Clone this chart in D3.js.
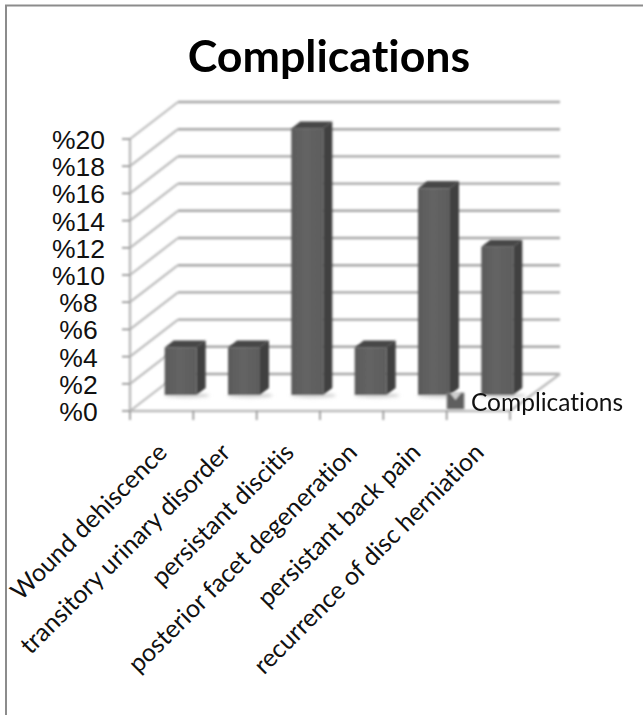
<!DOCTYPE html>
<html>
<head>
<meta charset="utf-8">
<script src="https://cdn.jsdelivr.net/npm/d3@7"></script>
<style>
  html, body { margin: 0; padding: 0; background: #fff; }
  svg { display: block; }
  text { font-variant-ligatures: none; }
</style>
</head>
<body>
<svg id="chart" width="643" height="715"></svg>
<script>
// Complication rates, in percent
const categories = [
  "Wound dehiscence",
  "transitory urinary disorder",
  "persistant discitis",
  "posterior facet degeneration",
  "persistant back pain",
  "recurrence of disc herniation"
];
const values = [3.5, 3.5, 19.6, 3.5, 15.2, 10.9];
const yTicks = [0, 2, 4, 6, 8, 10, 12, 14, 16, 18, 20];
const seriesName = "Complications";
const chartTitle = "Complications";

const svg = d3.select("#chart");
const defs = svg.append("defs");

// Pseudo-3D box: the back wall sits up and to the right of the front plane
const wallDx = 48, wallDy = -37;
const barShiftX = 19, barShiftY = -16;   // bars stand partway into the floor
const sideDx = 9, sideDy = -7;           // depth of each bar

const x = d3.scaleBand().domain(categories).range([130, 510]);
const y = d3.scaleLinear().domain([0, 20]).range([411, 139]);
const barWidth = 32;

const gridColor = "#a6a6a6";
const softGrid = "#bababa";

// Outer frame: top and left edges only
svg.append("path")
  .attr("d", d3.line()([[643, 5.5], [6, 5.5], [6, 715]]))
  .attr("fill", "none")
  .attr("stroke", "#8c8c8c")
  .attr("stroke-width", 2);

// Soft blur for the walls and bars
const soft = defs.append("filter").attr("id", "soft")
  .attr("filterUnits", "userSpaceOnUse")
  .attr("x", 0).attr("y", 0).attr("width", 643).attr("height", 715);
soft.append("feGaussianBlur").attr("stdDeviation", 0.8);
const shadowBlur = defs.append("filter").attr("id", "shadowBlur")
  .attr("filterUnits", "userSpaceOnUse")
  .attr("x", 0).attr("y", 0).attr("width", 643).attr("height", 715);
shadowBlur.append("feGaussianBlur").attr("stdDeviation", 1.6);

// Front-face shading, lighter through the middle
const face = defs.append("linearGradient").attr("id", "faceFill");
face.append("stop").attr("offset", "0%").attr("stop-color", "#5a5a5a");
face.append("stop").attr("offset", "45%").attr("stop-color", "#646464");
face.append("stop").attr("offset", "100%").attr("stop-color", "#5c5c5c");

const walls = svg.append("g").attr("filter", "url(#soft)");

// Back wall and side wall gridlines
walls.selectAll("line.back").data(yTicks).join("line")
  .attr("class", "back")
  .attr("x1", 130 + wallDx).attr("x2", 510 + wallDx + 2)
  .attr("y1", d => y(d) + wallDy).attr("y2", d => y(d) + wallDy)
  .attr("stroke", gridColor).attr("stroke-width", 2.4);
walls.selectAll("line.side").data(yTicks).join("line")
  .attr("class", "side")
  .attr("x1", 130).attr("x2", 130 + wallDx)
  .attr("y1", d => y(d)).attr("y2", d => y(d) + wallDy)
  .attr("stroke", softGrid).attr("stroke-width", 2.2);

// Floor edge on the right
walls.append("line")
  .attr("x1", 510).attr("y1", y(0))
  .attr("x2", 510 + wallDx + 2).attr("y2", y(0) + wallDy)
  .attr("stroke", softGrid).attr("stroke-width", 2.2);

// Value axis
walls.append("line")
  .attr("x1", 130).attr("x2", 130).attr("y1", y(20)).attr("y2", y(0))
  .attr("stroke", softGrid).attr("stroke-width", 2.4);
walls.selectAll("line.ytick").data(yTicks).join("line")
  .attr("class", "ytick")
  .attr("x1", 122).attr("x2", 130)
  .attr("y1", d => y(d)).attr("y2", d => y(d))
  .attr("stroke", "#858585").attr("stroke-width", 1.5);

// Category axis with ticks at the band edges
walls.append("line")
  .attr("x1", 130).attr("x2", 510).attr("y1", y(0)).attr("y2", y(0))
  .attr("stroke", softGrid).attr("stroke-width", 2.4);
const edges = categories.map(c => x(c)).concat([x.range()[1]]);
walls.selectAll("line.xtick").data(edges).join("line")
  .attr("class", "xtick")
  .attr("x1", d => d).attr("x2", d => d)
  .attr("y1", y(0)).attr("y2", y(0) + 9)
  .attr("stroke", "#858585").attr("stroke-width", 1.5);

// Bars
const barX = c => x(c) + (x.bandwidth() - barWidth) / 2 + barShiftX;
const barBase = y(0) + barShiftY;
const barTop = v => barBase - (y(0) - y(v));

const bars = svg.append("g").attr("filter", "url(#soft)")
  .selectAll("g").data(categories.map((c, i) => ({ c, v: values[i] }))).join("g");

bars.append("ellipse")
  .attr("cx", d => barX(d.c) + barWidth / 2 + 6).attr("cy", barBase + 0.5)
  .attr("rx", barWidth / 2 + 7).attr("ry", 2.2)
  .attr("fill", "#cfcfcf").attr("filter", "url(#shadowBlur)");

// Right side face
bars.append("path")
  .attr("d", d => {
    const l = barX(d.c) + barWidth, t = barTop(d.v);
    return d3.line()([[l, t], [l + sideDx, t + sideDy], [l + sideDx, barBase + sideDy], [l, barBase]]) + "Z";
  })
  .attr("fill", "#404040");

// Top face
bars.append("path")
  .attr("d", d => {
    const l = barX(d.c), t = barTop(d.v);
    return d3.line()([[l, t], [l + sideDx, t + sideDy], [l + barWidth + sideDx, t + sideDy], [l + barWidth, t]]) + "Z";
  })
  .attr("fill", "#474747");

// Front face
bars.append("rect")
  .attr("x", d => barX(d.c)).attr("y", d => barTop(d.v))
  .attr("width", barWidth).attr("height", d => barBase - barTop(d.v))
  .attr("fill", "url(#faceFill)");

// Legend key
const legend = svg.append("g").attr("filter", "url(#soft)");
legend.append("rect")
  .attr("x", 447).attr("y", 393).attr("width", 17).attr("height", 16)
  .attr("fill", "#5e5e5e").attr("stroke", "#8a8a8a").attr("stroke-width", 0.8);
legend.append("path")
  .attr("d", d3.line()([[450, 393], [461, 393], [455.5, 400]]) + "Z")
  .attr("fill", "#cfcfcf");

// Value axis labels
svg.selectAll("text.ylab").data(yTicks).join("text")
  .attr("class", "ylab")
  .attr("x", 78.5).attr("y", d => y(d) + 10)
  .attr("text-anchor", "middle")
  .attr("font-family", "'Liberation Sans', Arial, sans-serif")
  .attr("font-size", 26.5)
  .attr("fill", "#111")
  .text(d => "%" + d);

// Category labels, rotated and ending under each band
svg.selectAll("text.xlab").data(categories).join("text")
  .attr("class", "xlab")
  .attr("text-anchor", "end")
  .attr("transform", d => `translate(${x(d) + x.bandwidth() / 2 + 7},${y(0) + 43}) rotate(-45)`)
  .attr("font-family", "Lato, 'Open Sans', sans-serif")
  .attr("font-size", 25)
  .attr("fill", "#111")
  .text(d => d);

// Legend label
svg.append("text")
  .attr("x", 471).attr("y", 411)
  .attr("font-family", "Lato, 'Open Sans', sans-serif")
  .attr("font-size", 24.5)
  .attr("fill", "#111")
  .text(seriesName);

// Title
svg.append("text")
  .attr("x", 329).attr("y", 72)
  .attr("text-anchor", "middle")
  .attr("font-family", "Lato, 'Open Sans', sans-serif")
  .attr("font-weight", 700)
  .attr("font-size", 44.7)
  .attr("fill", "#000")
  .text(chartTitle);
</script>
</body>
</html>
